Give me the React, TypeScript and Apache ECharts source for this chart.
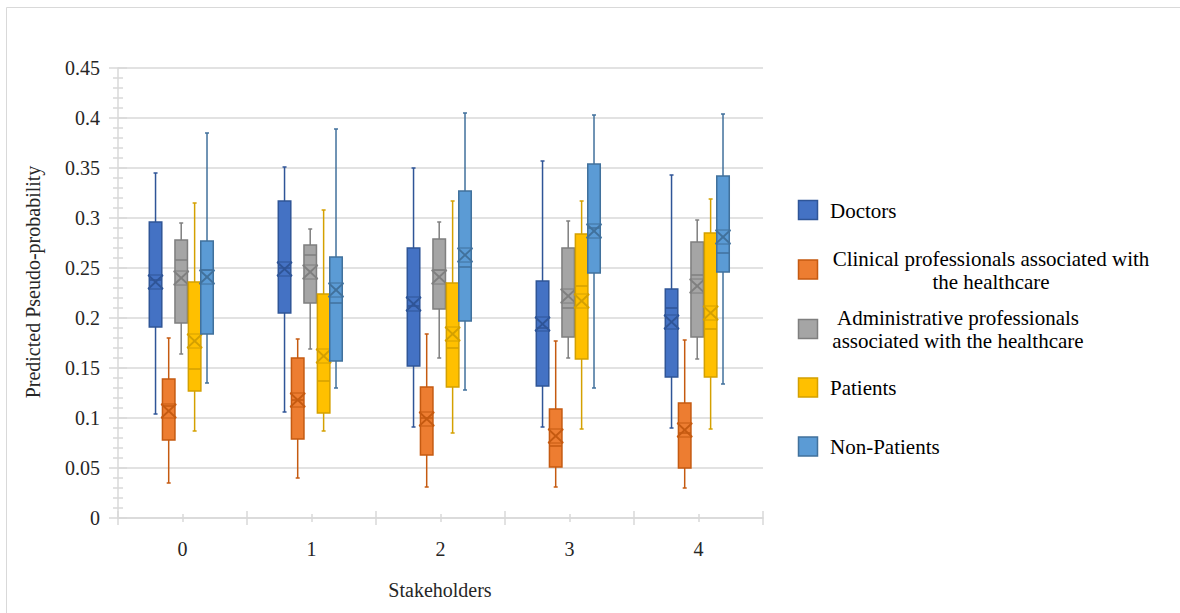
import React, { useEffect, useRef } from "react";
import * as echarts from "echarts";

// ---- data (per stakeholder category: [min, Q1, median, Q3, max, mean]) ----
const categories = ["0", "1", "2", "3", "4"];

const seriesNames = [
  "Doctors",
  "Clinical professionals associated with the healthcare",
  "Administrative professionals associated with the healthcare",
  "Patients",
  "Non-Patients",
];

const legendLabels = [
  "Doctors",
  "Clinical professionals associated with\nthe healthcare",
  "Administrative professionals\nassociated with the healthcare",
  "Patients",
  "Non-Patients",
];

const doctors = [
  [0.104, 0.191, 0.238, 0.296, 0.345, 0.236],
  [0.106, 0.205, 0.25, 0.317, 0.351, 0.249],
  [0.091, 0.152, 0.212, 0.27, 0.35, 0.214],
  [0.091, 0.132, 0.19, 0.237, 0.357, 0.194],
  [0.09, 0.141, 0.21, 0.229, 0.343, 0.196],
];
const clinical = [
  [0.035, 0.078, 0.112, 0.139, 0.18, 0.107],
  [0.04, 0.079, 0.118, 0.16, 0.179, 0.118],
  [0.031, 0.063, 0.1, 0.131, 0.184, 0.099],
  [0.031, 0.051, 0.072, 0.109, 0.177, 0.082],
  [0.03, 0.05, 0.085, 0.115, 0.178, 0.088],
];
const administrative = [
  [0.164, 0.195, 0.258, 0.278, 0.295, 0.24],
  [0.169, 0.215, 0.263, 0.273, 0.289, 0.246],
  [0.16, 0.209, 0.248, 0.279, 0.296, 0.241],
  [0.16, 0.181, 0.21, 0.27, 0.297, 0.222],
  [0.159, 0.181, 0.243, 0.276, 0.298, 0.232],
];
const patients = [
  [0.087, 0.127, 0.149, 0.236, 0.315, 0.177],
  [0.087, 0.105, 0.137, 0.224, 0.308, 0.162],
  [0.085, 0.131, 0.17, 0.235, 0.317, 0.184],
  [0.089, 0.159, 0.232, 0.284, 0.317, 0.217],
  [0.089, 0.141, 0.189, 0.285, 0.319, 0.205],
];
const nonPatients = [
  [0.135, 0.184, 0.248, 0.277, 0.385, 0.241],
  [0.13, 0.157, 0.215, 0.261, 0.389, 0.228],
  [0.128, 0.197, 0.251, 0.327, 0.405, 0.263],
  [0.13, 0.245, 0.29, 0.354, 0.403, 0.287],
  [0.134, 0.246, 0.265, 0.342, 0.404, 0.281],
];

const allSeries = [doctors, clinical, administrative, patients, nonPatients];

// ---- styling ----
const fills = ["#4472C4", "#ED7D31", "#A5A5A5", "#FFC000", "#5B9BD5"];
const strokes = ["#2F5597", "#C55A11", "#7F7F7F", "#D4A000", "#41719C"];
const OFFSETS = [-0.209, -0.107, -0.01, 0.094, 0.19]; // fraction of band
const BOX_W = 0.097; // fraction of band
const FONT = "Liberation Serif, Times New Roman, serif";
const GRID_COLOR = "#d9d9d9";
const TEXT_COLOR = "#262626";

export default function App() {
  const ref = useRef<HTMLDivElement>(null);

  useEffect(() => {
    const chart = echarts.init(ref.current!, null, { renderer: "svg" });

    const renderItem = (params: any, api: any) => {
      const si = params.seriesIndex;
      const cat = api.value(0);
      const band = api.size([1, 0])[0];
      const cx = api.coord([cat, 0])[0] + OFFSETS[si] * band;
      const w = BOX_W * band;
      const yMin = api.coord([cat, api.value(1)])[1];
      const yQ1 = api.coord([cat, api.value(2)])[1];
      const yMed = api.coord([cat, api.value(3)])[1];
      const yQ3 = api.coord([cat, api.value(4)])[1];
      const yMax = api.coord([cat, api.value(5)])[1];
      const yMean = api.coord([cat, api.value(6)])[1];
      const stroke = strokes[si];
      const lineStyle = { stroke, lineWidth: 1.5, fill: null };
      const cap = 2;
      const mw = 7.5;
      const mh = 7;
      return {
        type: "group",
        children: [
          { type: "line", shape: { x1: cx, y1: yMax, x2: cx, y2: yQ3 }, style: lineStyle },
          { type: "line", shape: { x1: cx, y1: yQ1, x2: cx, y2: yMin }, style: lineStyle },
          { type: "line", shape: { x1: cx - cap, y1: yMax, x2: cx + cap, y2: yMax }, style: lineStyle },
          { type: "line", shape: { x1: cx - cap, y1: yMin, x2: cx + cap, y2: yMin }, style: lineStyle },
          {
            type: "rect",
            shape: { x: cx - w / 2, y: yQ3, width: w, height: yQ1 - yQ3 },
            style: { fill: fills[si], stroke, lineWidth: 1.5 },
          },
          { type: "line", shape: { x1: cx - w / 2, y1: yMed, x2: cx + w / 2, y2: yMed }, style: lineStyle },
          { type: "line", shape: { x1: cx - mw, y1: yMean - mh, x2: cx + mw, y2: yMean + mh }, style: { ...lineStyle, lineWidth: 1.8 } },
          { type: "line", shape: { x1: cx - mw, y1: yMean + mh, x2: cx + mw, y2: yMean - mh }, style: { ...lineStyle, lineWidth: 1.8 } },
          { type: "line", shape: { x1: cx - mw, y1: yMean - mh, x2: cx + mw, y2: yMean - mh }, style: { ...lineStyle, lineWidth: 1 } },
          { type: "line", shape: { x1: cx - mw, y1: yMean + mh, x2: cx + mw, y2: yMean + mh }, style: { ...lineStyle, lineWidth: 1 } },
        ],
      };
    };

    const series = allSeries.map((rows, si) => ({
      type: "custom",
      name: seriesNames[si],
      xAxisIndex: 0,
      yAxisIndex: 0,
      renderItem,
      encode: { x: 0, y: [1, 2, 3, 4, 5, 6] },
      data: rows.map((r, ci) => [ci, ...r]),
      z: 2 + si,
    }));

    const baseX = {
      type: "category",
      data: categories,
      position: "bottom",
      boundaryGap: true,
      axisLine: { show: false },
      axisLabel: { show: false },
      splitLine: { show: false },
    };

    const legendCenters = [210.5, 270, 329.5, 388, 447];
    const legendGraphics: any[] = [];
    legendLabels.forEach((label, i) => {
      const cy = legendCenters[i];
      legendGraphics.push({
        type: "rect",
        shape: { x: 798.5, y: cy - 10, width: 19, height: 19 },
        style: { fill: fills[i], stroke: strokes[i], lineWidth: 1.5 },
        silent: true,
      });
      const multi = label.indexOf("\n") >= 0;
      legendGraphics.push({
        type: "text",
        x: multi ? (i === 1 ? 991 : 958) : 830,
        y: cy,
        style: {
          text: label,
          fontSize: 21,
          fontFamily: FONT,
          fill: "#000",
          align: multi ? "center" : "left",
          verticalAlign: "middle",
          lineHeight: 23,
        },
        silent: true,
      });
    });

    const option: any = {
      animation: false,
      backgroundColor: "#fff",
      textStyle: { fontFamily: FONT },
      grid: { left: 118, top: 68, width: 645, height: 450, containLabel: false },
      xAxis: [
        {
          type: "category",
          data: categories,
          position: "bottom",
          boundaryGap: true,
          axisLine: { show: true, lineStyle: { color: GRID_COLOR, width: 1.5 } },
          axisTick: { show: true, length: 7, lineStyle: { color: GRID_COLOR, width: 1.5 } },
          axisLabel: { show: true, margin: 21, fontSize: 20, fontFamily: FONT, color: TEXT_COLOR },
          splitLine: { show: false },
        },
        { ...baseX, axisTick: { show: true, inside: true, length: 7, lineStyle: { color: GRID_COLOR, width: 1.5 } } },
        { ...baseX, axisTick: { show: true, alignWithLabel: true, length: 4, lineStyle: { color: GRID_COLOR, width: 1.5 } } },
        { ...baseX, axisTick: { show: true, alignWithLabel: true, inside: true, length: 4, lineStyle: { color: GRID_COLOR, width: 1.5 } } },
      ],
      yAxis: [
        {
          type: "value",
          min: 0,
          max: 0.45,
          interval: 0.05,
          position: "left",
          axisLine: { show: true, lineStyle: { color: GRID_COLOR, width: 1.5 } },
          axisTick: { show: true, length: 9, lineStyle: { color: GRID_COLOR, width: 1.5 } },
          minorTick: { show: true, splitNumber: 5, length: 5, lineStyle: { color: GRID_COLOR, width: 1.5 } },
          splitLine: { show: true, lineStyle: { color: GRID_COLOR, width: 1.5 } },
          axisLabel: { show: true, margin: 18, fontSize: 20, fontFamily: FONT, color: TEXT_COLOR },
        },
        {
          type: "value",
          min: 0,
          max: 0.45,
          interval: 0.05,
          position: "left",
          axisLine: { show: false },
          axisTick: { show: true, inside: true, length: 9, lineStyle: { color: GRID_COLOR, width: 1.5 } },
          minorTick: { show: true, splitNumber: 5, length: 5, lineStyle: { color: GRID_COLOR, width: 1.5 } },
          splitLine: { show: false },
          axisLabel: { show: false },
        },
      ],
      graphic: [
        {
          type: "rect",
          shape: { x: 6.5, y: 7.5, width: 1200, height: 700 },
          style: { fill: "none", stroke: GRID_COLOR, lineWidth: 1 },
          silent: true,
          z: -10,
        },
        {
          type: "text",
          x: 33,
          y: 282,
          rotation: Math.PI / 2,
          style: {
            text: "Predicted Pseudo-probability",
            fontSize: 20,
            fontFamily: FONT,
            fill: TEXT_COLOR,
            align: "center",
            verticalAlign: "middle",
          },
          silent: true,
        },
        {
          type: "text",
          x: 440,
          y: 590,
          style: {
            text: "Stakeholders",
            fontSize: 20,
            fontFamily: FONT,
            fill: TEXT_COLOR,
            align: "center",
            verticalAlign: "middle",
          },
          silent: true,
        },
        ...legendGraphics,
      ],
      series,
    };

    chart.setOption(option);
    return () => chart.dispose();
  }, []);

  return (
    <div
      ref={ref}
      style={{ position: "absolute", left: 0, top: 0, width: 1180, height: 613, background: "#fff" }}
    />
  );
}
